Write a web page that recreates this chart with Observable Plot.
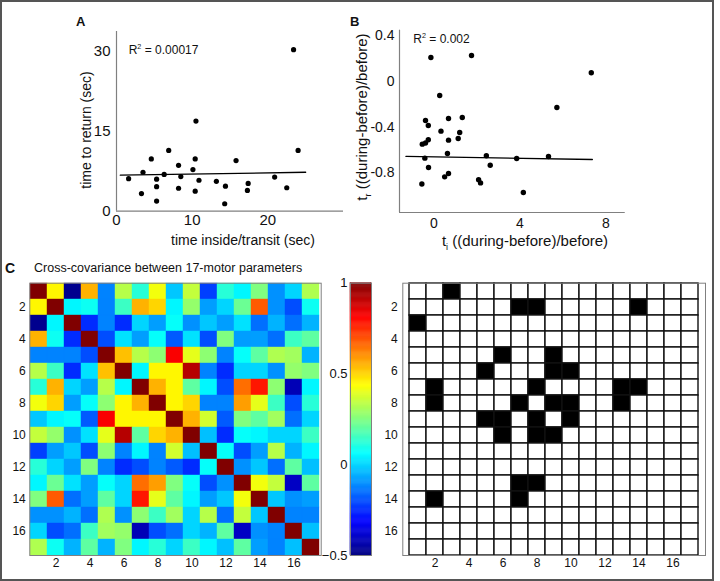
<!DOCTYPE html>
<html><head><meta charset="utf-8">
<script src="https://cdn.jsdelivr.net/npm/d3@7"></script>
<script src="https://cdn.jsdelivr.net/npm/@observablehq/plot@0.6"></script>
<style>
body{margin:0;background:#fff;}
#fig{position:relative;width:720px;height:581px;overflow:hidden;font-family:"Liberation Sans",Arial,sans-serif;color:#111;background:#fff;}
.lab{position:absolute;white-space:nowrap;line-height:1;}
.rot{transform:translate(-50%,-50%) rotate(-90deg);}
.ctr{transform:translate(-50%,-50%);}
sub,sup{font-size:60%;line-height:0;}
</style></head><body><div id="fig"></div>
<script>
// ---------- Panel A data ----------
const aX = [1.6,3.3,3.5,4.6,5.3,5.3,5.3,6.3,6.9,8.2,8.2,8.5,10.1,10.4,10.4,10.5,10.9,13.2,14.3,14.4,15.8,17.4,17.3,20.9,22.5,23.4,24.0];
const aY = [6.1,3.3,7.3,9.8,6.0,4.6,1.9,6.9,11.4,8.6,4.3,6.5,7.8,9.8,3.75,16.9,5.8,5.6,1.4,4.7,9.5,5.2,3.9,6.4,4.4,30.3,11.4];
const aFitX = [0.5, 25];
const aFitY = [6.75, 7.3];
const aDomX = [0, 30];
const aDomY = [0, 33.7];
const aTicksX = [0, 10, 20];
const aTicksY = [0, 15, 30];
// ---------- Panel B data ----------
const bX = [-0.14,1.75,7.32,0.27,5.72,-0.39,-0.26,0.68,1.32,0.33,1.2,-0.26,-0.39,-0.54,0.68,1.13,0.63,-0.42,2.44,3.85,5.33,2.62,-0.25,0.68,0.5,2.08,2.17,-0.56,4.16];
const bY = [0.21,0.228,0.076,-0.123,-0.228,-0.342,-0.386,-0.325,-0.316,-0.436,-0.448,-0.512,-0.54,-0.55,-0.515,-0.5,-0.632,-0.673,-0.652,-0.676,-0.658,-0.735,-0.755,-0.808,-0.837,-0.863,-0.89,-0.9,-0.975];
const bFitX = [-1.3, 7.37];
const bFitY = [-0.658, -0.685];
const bDomX = [-1.6, 8.9];
const bDomY = [-1.15, 0.45];
const bTicksX = [0, 4, 8];
const bTicksY = [-0.8, -0.4, 0, 0.4];
// ---------- Panel C data ----------
const params = d3.range(1, 18);
const paramTicks = [2, 4, 6, 8, 10, 12, 14, 16];
const covRows = [
 [1,0.45,-0.48,0.55,-0.12,0.33,0.12,0.42,-0.02,0.35,-0.22,0.12,0.05,0.25,-0.1,0.0,0.32],
 [0.45,1,0.05,0.08,-0.12,0.15,0.55,0.5,0.05,0.28,-0.08,0.0,0.22,0.68,-0.1,-0.2,0.08],
 [-0.48,0.05,1,-0.25,-0.12,-0.25,0.0,-0.08,0.07,-0.1,-0.02,-0.08,0.02,-0.15,-0.05,-0.15,-0.05],
 [0.55,0.08,-0.25,1,-0.2,0.02,-0.08,0.07,-0.18,0.02,-0.2,0.25,-0.08,-0.08,-0.15,0.15,0.2],
 [-0.12,-0.12,-0.12,-0.2,1,0.53,0.33,0.27,0.82,0.4,0.27,-0.12,0.07,0.2,0.32,0.3,-0.05],
 [0.33,0.15,-0.25,0.02,0.53,1,0.05,0.45,0.45,0.92,-0.12,-0.25,0.0,0.0,-0.1,0.28,0.25],
 [0.12,0.55,0.0,-0.08,0.33,0.05,1,0.55,0.45,0.2,0.05,-0.2,0.65,0.78,0.27,-0.42,0.05],
 [0.42,0.5,-0.08,0.07,0.27,0.45,0.55,1,0.45,0.5,-0.12,-0.12,0.58,0.4,0.15,-0.2,0.12],
 [-0.02,0.05,0.07,-0.18,0.82,0.45,0.45,0.45,1,0.55,0.37,-0.18,0.25,0.2,0.3,-0.15,0.0],
 [0.35,0.28,-0.1,0.02,0.4,0.92,0.2,0.5,0.55,1,-0.03,-0.25,0.07,0.05,0.0,0.0,0.15],
 [-0.22,-0.08,-0.02,-0.2,0.27,-0.12,0.05,-0.12,0.37,-0.03,1,0.07,-0.2,-0.08,0.33,-0.05,0.05],
 [0.12,0.0,-0.08,0.25,-0.12,-0.25,-0.2,-0.12,-0.18,-0.25,0.07,1,-0.1,-0.02,-0.15,0.2,-0.03],
 [0.05,0.22,0.02,-0.08,0.07,0.0,0.65,0.58,0.25,0.07,-0.2,-0.1,1,0.42,0.35,-0.4,0.2],
 [0.25,0.68,-0.15,-0.08,0.2,0.0,0.78,0.4,0.2,0.05,-0.08,-0.02,0.42,1,-0.02,-0.1,-0.08],
 [-0.1,-0.1,-0.05,-0.15,0.32,-0.1,0.27,0.15,0.3,0.0,0.33,-0.15,0.35,-0.02,1,-0.12,-0.12],
 [0.0,-0.2,-0.15,0.15,0.3,0.28,-0.42,-0.2,-0.15,0.0,-0.05,0.2,-0.4,-0.1,-0.12,1,-0.03],
 [0.32,0.08,-0.05,0.2,-0.05,0.25,0.05,0.12,0.0,0.15,0.05,-0.03,0.2,-0.08,-0.12,-0.03,1]
];
const colorDom = [-0.5, 1];
const colorTicks = [-0.5, 0, 0.5, 1];
// significant pairs (row, col), symmetric
const sigRow = [1,2,2,2,5,5,6,6,7,7,7,8,8,8,9];
const sigCol = [3,7,8,14,6,9,9,10,8,13,14,9,10,13,10];

// ---------- helpers ----------
const fig = document.getElementById("fig");
const FONT = "Liberation Sans, Arial, sans-serif";
function place(svg, left, top) {
  svg.style.position = "absolute";
  svg.style.left = left + "px";
  svg.style.top = top + "px";
  fig.appendChild(svg);
}
function label(html, left, top, opts = {}) {
  const d = document.createElement("div");
  d.className = "lab " + (opts.cls || "");
  d.innerHTML = html;
  d.style.left = left + "px";
  d.style.top = top + "px";
  d.style.fontSize = (opts.size || 14) + "px";
  if (opts.bold) d.style.fontWeight = "bold";
  if (opts.color) d.style.color = opts.color;
  fig.appendChild(d);
}
const axisGray = "#808080";
const plain = d => String(d);

// ---------- Panel A ----------
const ptsA = aX.map((x, i) => ({x, y: aY[i]}));
const fitA = aFitX.map((x, i) => ({x, y: aFitY[i]}));
place(Plot.plot({
  width: 360, height: 260,
  marginLeft: 116, marginRight: 17, marginTop: 31, marginBottom: 49.3,
  x: {domain: aDomX, ticks: aTicksX, tickSize: 0, tickPadding: 3, label: null, tickFormat: plain},
  y: {domain: aDomY, ticks: aTicksY, tickSize: 0, tickPadding: 6, label: null, tickFormat: plain},
  style: {fontFamily: FONT, fontSize: "15px", color: "#111", background: "transparent", overflow: "visible"},
  marks: [
    Plot.ruleX([aDomX[0]], {stroke: axisGray, strokeWidth: 1.2}),
    Plot.ruleY([aDomY[0]], {stroke: axisGray, strokeWidth: 1.2}),
    Plot.line(fitA, {x: "x", y: "y", stroke: "#000", strokeWidth: 1.3}),
    Plot.dot(ptsA, {x: "x", y: "y", r: 2.6, fill: "#000"})
  ]
}), 0, 0);

// ---------- Panel B ----------
const ptsB = bX.map((x, i) => ({x, y: bY[i]}));
const fitB = bFitX.map((x, i) => ({x, y: bFitY[i]}));
place(Plot.plot({
  width: 360, height: 260,
  marginLeft: 39, marginRight: 95.25, marginTop: 29.7, marginBottom: 48,
  x: {domain: bDomX, ticks: bTicksX, tickSize: 0, tickPadding: 6, label: null, tickFormat: plain},
  y: {domain: bDomY, ticks: bTicksY, tickSize: 0, tickPadding: 5, label: null, tickFormat: plain},
  style: {fontFamily: FONT, fontSize: "14px", color: "#111", background: "transparent", overflow: "visible"},
  marks: [
    Plot.ruleX([bDomX[0]], {stroke: axisGray, strokeWidth: 1.2}),
    Plot.ruleY([bDomY[0]], {stroke: axisGray, strokeWidth: 1.2}),
    Plot.line(fitB, {x: "x", y: "y", stroke: "#000", strokeWidth: 1.3}),
    Plot.dot(ptsB, {x: "x", y: "y", r: 2.7, fill: "#000"})
  ]
}), 360, 0);

// ---------- Panel C: heatmap ----------
const jet = {
  type: "linear",
  domain: [-0.5, -0.3125, 0.0625, 0.4375, 0.8125, 1],
  range: ["#000080", "#0000ff", "#00ffff", "#ffff00", "#ff0000", "#800000"],
  interpolate: "rgb", clamp: true
};
const cells = covRows.flatMap((row, i) => row.map((v, j) => ({r: params[i], c: params[j], v})));
place(Plot.plot({
  width: 330, height: 311,
  marginLeft: 29.3, marginRight: 9.3, marginTop: 12.7, marginBottom: 26,
  x: {type: "band", domain: params, padding: 0},
  y: {type: "band", domain: params, padding: 0},
  color: jet,
  style: {fontFamily: FONT, fontSize: "12px", color: "#111", background: "transparent", overflow: "visible"},
  marks: [
    Plot.cell(cells, {x: "c", y: "r", fill: "v", stroke: "v", strokeWidth: 0.4, inset: 0}),
    Plot.frame({stroke: axisGray}),
    Plot.axisX({ticks: paramTicks, tickSize: 0, tickPadding: 3, label: null}),
    Plot.axisY({ticks: paramTicks, tickSize: 0, tickPadding: 4, label: null})
  ]
}), 0, 270);

// colorbar
const bar = d3.range(colorDom[0], colorDom[1], 0.005);
place(Plot.plot({
  width: 60, height: 311,
  marginLeft: 30, marginRight: 9, marginTop: 12.7, marginBottom: 26,
  y: {domain: colorDom},
  color: jet,
  style: {fontFamily: FONT, fontSize: "13px", color: "#111", background: "transparent", overflow: "visible"},
  marks: [
    Plot.rect(bar, {y1: d => d, y2: d => d + 0.005, fill: d => d + 0.0025, stroke: d => d + 0.0025, strokeWidth: 0.5}),
    Plot.frame({stroke: axisGray}),
    Plot.axisY({ticks: colorTicks, tickSize: 0, tickPadding: 3, label: null, anchor: "left", tickFormat: d3.format("~g")})
  ]
}), 320, 270);

// ---------- Panel C: binary matrix ----------
const sigSet = new Set();
sigRow.forEach((r, i) => { sigSet.add(r + "-" + sigCol[i]); sigSet.add(sigCol[i] + "-" + r); });
const bin = params.flatMap(r => params.map(c => ({r, c, on: sigSet.has(r + "-" + c)})));
place(Plot.plot({
  width: 340, height: 311,
  marginLeft: 22.3, marginRight: 15, marginTop: 12.7, marginBottom: 26,
  x: {type: "band", domain: params, padding: 0},
  y: {type: "band", domain: params, padding: 0},
  style: {fontFamily: FONT, fontSize: "12px", color: "#111", background: "transparent", overflow: "visible"},
  marks: [
    Plot.cell(bin, {x: "c", y: "r", fill: d => d.on ? "#000" : "#fff", stroke: "#111", strokeWidth: 1.4, inset: 0}),
    Plot.frame({stroke: axisGray}),
    Plot.axisX({ticks: paramTicks, tickSize: 0, tickPadding: 3, label: null}),
    Plot.axisY({ticks: paramTicks, tickSize: 0, tickPadding: 5, label: null})
  ]
}), 380, 270);

// ---------- text ----------
label("A", 76, 15.3, {size: 13, bold: true});
label("B", 350, 15.3, {size: 13, bold: true});
label("R<sup>2</sup> = 0.00017", 128.7, 44, {size: 12});
label("R<sup>2</sup> = 0.002", 413.3, 33.4, {size: 12});
label("time inside/transit (sec)", 243, 240, {size: 14, cls: "ctr"});
label("time to return (sec)", 86, 129.5, {size: 14, cls: "rot"});
label("t<sub>i</sub> ((during-before)/before)", 525, 240, {size: 15, cls: "ctr"});
label("t<sub>r</sub> ((during-before)/before)", 360.5, 117, {size: 15, cls: "rot"});
label("C", 5, 260.5, {size: 14, bold: true});
label("Cross-covariance between 17-motor parameters", 34, 262, {size: 12.5});

// figure border
const border = document.createElement("div");
border.style.cssText = "position:absolute;left:0;top:0;width:714px;height:581px;box-sizing:border-box;border:2px solid #555;pointer-events:none;";
fig.appendChild(border);
</script></body></html>
